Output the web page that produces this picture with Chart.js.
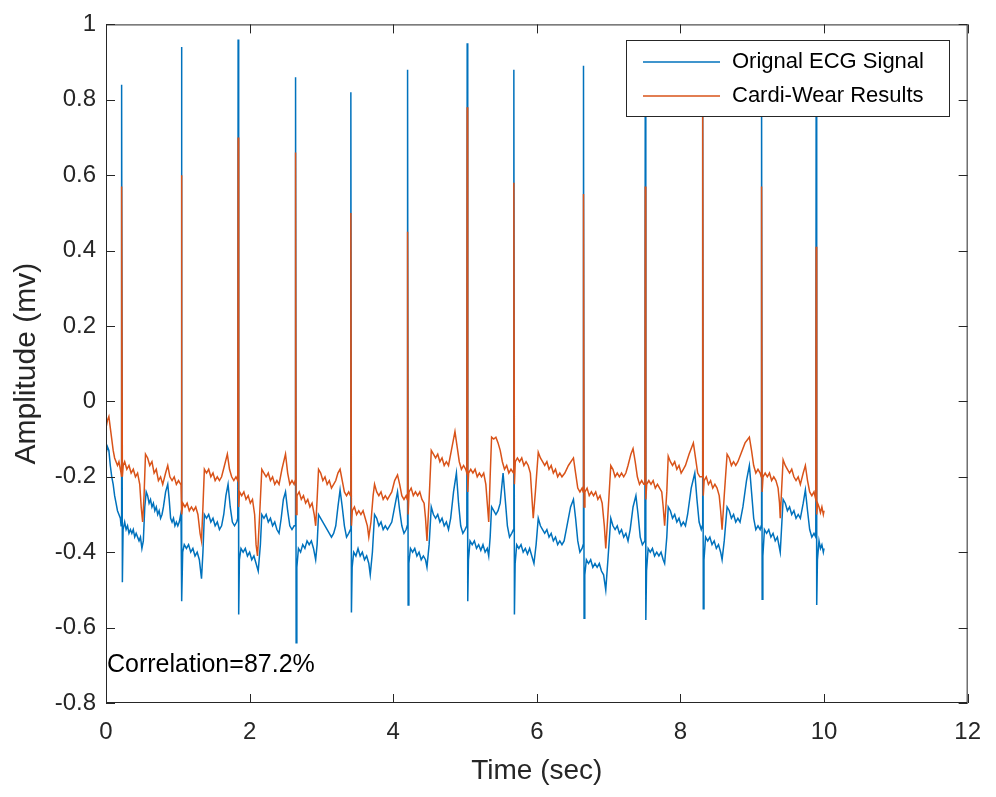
<!DOCTYPE html>
<html>
<head>
<meta charset="utf-8">
<title>ECG vs Cardi-Wear</title>
<script src="https://cdn.jsdelivr.net/npm/chart.js@4.4.1/dist/chart.umd.min.js"></script>
<style>
  html, body { margin: 0; padding: 0; background: #fff; }
  #ecgChart { display: block; }
</style>
</head>
<body>
<canvas id="ecgChart" width="996" height="797"></canvas>
<script>
// axis ticks
const xTickValues = [0, 2, 4, 6, 8, 10, 12];
const xTickLabels = ['0', '2', '4', '6', '8', '10', '12'];
const yTickValues = [-0.8, -0.6, -0.4, -0.2, 0, 0.2, 0.4, 0.6, 0.8, 1];
const yTickLabels = ['-0.8', '-0.6', '-0.4', '-0.2', '0', '0.2', '0.4', '0.6', '0.8', '1'];

const seriesNames = ['Orignal ECG Signal', 'Cardi-Wear Results'];
const correlationText = 'Correlation=87.2%';
const correlationAt = [0, -0.7]; // time, amplitude

// [time (sec), amplitude (mv)], beat by beat
const originalEcg = [
  // lead-in
  [0, -0.14], [0.02, -0.12], [0.04, -0.13], [0.06, -0.17], [0.08, -0.2], [0.1, -0.22], [0.12, -0.25],
  [0.14, -0.27], [0.16, -0.29], [0.18, -0.3], [0.2, -0.31], [0.21, -0.33],
  // beat 1
  [0.215, -0.3], [0.22, 0.84], [0.228, -0.48], [0.238, -0.34], [0.26, -0.32], [0.28, -0.34], [0.3, -0.33],
  [0.32, -0.35], [0.34, -0.34], [0.36, -0.35], [0.38, -0.34], [0.4, -0.36], [0.42, -0.35], [0.44, -0.36],
  [0.46, -0.37], [0.48, -0.36], [0.5, -0.39], [0.52, -0.37], [0.54, -0.28], [0.56, -0.24], [0.58, -0.25],
  [0.6, -0.27], [0.62, -0.26], [0.64, -0.28], [0.66, -0.27], [0.68, -0.29], [0.7, -0.28], [0.72, -0.3],
  [0.74, -0.29], [0.76, -0.31], [0.78, -0.3], [0.8, -0.28], [0.83, -0.24], [0.86, -0.22], [0.88, -0.26],
  [0.9, -0.31], [0.92, -0.32], [0.94, -0.31], [0.96, -0.33], [0.98, -0.32], [1.0, -0.33], [1.02, -0.32], [1.04, -0.3],
  // beat 2
  [1.045, -0.31], [1.05, 0.94], [1.058, -0.53], [1.068, -0.4], [1.09, -0.38], [1.12, -0.39], [1.15, -0.38],
  [1.18, -0.4], [1.21, -0.39], [1.24, -0.41], [1.27, -0.4], [1.3, -0.42], [1.33, -0.47], [1.35, -0.4],
  [1.37, -0.3], [1.4, -0.31], [1.43, -0.3], [1.46, -0.32], [1.49, -0.31], [1.52, -0.33], [1.55, -0.32],
  [1.58, -0.34], [1.61, -0.33], [1.64, -0.3], [1.67, -0.25], [1.7, -0.22], [1.73, -0.28], [1.76, -0.32],
  [1.79, -0.33], [1.82, -0.32],
  // beat 3
  [1.835, -0.31], [1.84, 0.96], [1.848, -0.565], [1.858, -0.42], [1.88, -0.39], [1.91, -0.4], [1.94, -0.39],
  [1.97, -0.41], [2.0, -0.4], [2.03, -0.42], [2.06, -0.41], [2.09, -0.43], [2.12, -0.45], [2.15, -0.38],
  [2.17, -0.3], [2.2, -0.31], [2.23, -0.3], [2.26, -0.32], [2.29, -0.31], [2.32, -0.33], [2.35, -0.32],
  [2.38, -0.34], [2.41, -0.35], [2.44, -0.31], [2.47, -0.26], [2.5, -0.24], [2.53, -0.29], [2.56, -0.33],
  [2.59, -0.34], [2.62, -0.33],
  // beat 4
  [2.635, -0.33], [2.64, 0.86], [2.648, -0.64], [2.658, -0.44], [2.68, -0.39], [2.71, -0.4], [2.74, -0.38],
  [2.77, -0.39], [2.8, -0.37], [2.83, -0.38], [2.86, -0.37], [2.89, -0.39], [2.92, -0.42], [2.94, -0.38],
  [2.96, -0.3], [2.99, -0.31], [3.02, -0.32], [3.05, -0.33], [3.08, -0.34], [3.11, -0.35], [3.14, -0.36],
  [3.17, -0.35], [3.2, -0.33], [3.23, -0.28], [3.26, -0.235], [3.29, -0.28], [3.32, -0.33], [3.35, -0.36],
  [3.38, -0.35], [3.405, -0.34],
  // beat 5
  [3.41, 0.82], [3.418, -0.56], [3.428, -0.44], [3.45, -0.4], [3.48, -0.41], [3.51, -0.39], [3.54, -0.41],
  [3.57, -0.4], [3.6, -0.42], [3.63, -0.41], [3.66, -0.43], [3.68, -0.46], [3.71, -0.4], [3.74, -0.3],
  [3.77, -0.31], [3.8, -0.33], [3.83, -0.32], [3.86, -0.34], [3.89, -0.33], [3.92, -0.34], [3.95, -0.33],
  [3.98, -0.32], [4.02, -0.28], [4.06, -0.24], [4.09, -0.29], [4.12, -0.33], [4.15, -0.35], [4.18, -0.34], [4.195, -0.33],
  // beat 6
  [4.2, 0.88], [4.208, -0.54], [4.218, -0.43], [4.24, -0.39], [4.27, -0.4], [4.3, -0.39], [4.33, -0.41],
  [4.36, -0.4], [4.39, -0.42], [4.42, -0.41], [4.45, -0.42], [4.47, -0.44], [4.5, -0.38], [4.53, -0.28],
  [4.56, -0.3], [4.59, -0.31], [4.62, -0.3], [4.65, -0.32], [4.68, -0.31], [4.71, -0.33], [4.74, -0.32],
  [4.77, -0.34], [4.8, -0.31], [4.84, -0.24], [4.88, -0.19], [4.91, -0.27], [4.94, -0.33], [4.97, -0.35],
  [5.0, -0.34], [5.025, -0.33],
  // beat 7
  [5.03, 0.95], [5.038, -0.53], [5.048, -0.42], [5.07, -0.37], [5.1, -0.38], [5.13, -0.37], [5.16, -0.39],
  [5.19, -0.38], [5.22, -0.395], [5.25, -0.38], [5.28, -0.4], [5.31, -0.39], [5.33, -0.41], [5.35, -0.36],
  [5.37, -0.28], [5.4, -0.29], [5.43, -0.3], [5.46, -0.29], [5.49, -0.27], [5.53, -0.19], [5.56, -0.26],
  [5.59, -0.33], [5.62, -0.36], [5.65, -0.35], [5.675, -0.34],
  // beat 8
  [5.68, 0.88], [5.688, -0.565], [5.698, -0.43], [5.72, -0.38], [5.75, -0.39], [5.78, -0.38], [5.81, -0.4],
  [5.84, -0.39], [5.87, -0.405], [5.9, -0.39], [5.93, -0.41], [5.96, -0.43], [5.99, -0.38], [6.02, -0.31],
  [6.05, -0.33], [6.08, -0.34], [6.11, -0.35], [6.14, -0.34], [6.17, -0.36], [6.2, -0.35], [6.23, -0.37],
  [6.26, -0.36], [6.29, -0.38], [6.32, -0.37], [6.35, -0.38], [6.38, -0.37], [6.42, -0.33], [6.47, -0.28],
  [6.51, -0.26], [6.54, -0.31], [6.57, -0.37], [6.6, -0.4], [6.63, -0.39], [6.645, -0.38],
  // beat 9
  [6.65, 0.89], [6.658, -0.575], [6.668, -0.46], [6.69, -0.42], [6.72, -0.43], [6.75, -0.42], [6.78, -0.44],
  [6.81, -0.43], [6.84, -0.44], [6.87, -0.43], [6.9, -0.45], [6.93, -0.46], [6.96, -0.5], [6.99, -0.42],
  [7.03, -0.31], [7.06, -0.33], [7.09, -0.34], [7.12, -0.33], [7.15, -0.35], [7.18, -0.34], [7.21, -0.36],
  [7.24, -0.35], [7.27, -0.37], [7.3, -0.34], [7.34, -0.28], [7.38, -0.25], [7.41, -0.3], [7.44, -0.36],
  [7.47, -0.38], [7.505, -0.37],
  // beat 10
  [7.51, 0.88], [7.518, -0.58], [7.528, -0.45], [7.55, -0.39], [7.58, -0.4], [7.61, -0.39], [7.64, -0.41],
  [7.67, -0.4], [7.7, -0.41], [7.73, -0.4], [7.76, -0.42], [7.78, -0.43], [7.81, -0.36], [7.83, -0.28],
  [7.86, -0.29], [7.89, -0.31], [7.92, -0.3], [7.95, -0.32], [7.98, -0.31], [8.01, -0.33], [8.04, -0.32],
  [8.07, -0.33], [8.1, -0.3], [8.15, -0.23], [8.2, -0.19], [8.23, -0.26], [8.26, -0.32], [8.29, -0.34], [8.305, -0.33],
  // beat 11
  [8.31, 0.76], [8.318, -0.55], [8.328, -0.42], [8.35, -0.36], [8.38, -0.37], [8.41, -0.36], [8.44, -0.38],
  [8.47, -0.37], [8.5, -0.39], [8.53, -0.38], [8.56, -0.4], [8.58, -0.42], [8.61, -0.37], [8.65, -0.28],
  [8.68, -0.29], [8.71, -0.31], [8.74, -0.3], [8.77, -0.32], [8.8, -0.31], [8.83, -0.32], [8.87, -0.28],
  [8.92, -0.21], [8.96, -0.17], [8.99, -0.24], [9.02, -0.31], [9.05, -0.34], [9.08, -0.33], [9.11, -0.34], [9.125, -0.33],
  // beat 12
  [9.13, 0.86], [9.138, -0.525], [9.148, -0.41], [9.17, -0.34], [9.2, -0.35], [9.23, -0.34], [9.26, -0.36],
  [9.29, -0.35], [9.32, -0.37], [9.35, -0.36], [9.37, -0.38], [9.39, -0.4], [9.41, -0.33], [9.43, -0.26],
  [9.46, -0.27], [9.49, -0.29], [9.52, -0.28], [9.55, -0.3], [9.58, -0.29], [9.61, -0.31], [9.64, -0.3],
  [9.67, -0.31], [9.71, -0.27], [9.74, -0.235], [9.77, -0.29], [9.8, -0.34], [9.83, -0.36], [9.86, -0.35], [9.885, -0.36],
  // beat 13
  [9.89, 0.84], [9.898, -0.54], [9.908, -0.42], [9.93, -0.37], [9.95, -0.39], [9.97, -0.38], [9.99, -0.4], [10.0, -0.39]
];

const cardiWear = [
  // lead-in
  [0, -0.07], [0.02, -0.05], [0.04, -0.04], [0.06, -0.07], [0.08, -0.1], [0.1, -0.13], [0.12, -0.15],
  [0.14, -0.16], [0.16, -0.17], [0.18, -0.16], [0.2, -0.18], [0.21, -0.19],
  // beat 1
  [0.215, -0.2], [0.22, 0.57], [0.228, -0.2], [0.24, -0.17], [0.26, -0.16], [0.29, -0.18], [0.32, -0.17],
  [0.35, -0.19], [0.38, -0.18], [0.41, -0.2], [0.44, -0.19], [0.47, -0.22], [0.49, -0.28], [0.51, -0.32],
  [0.53, -0.25], [0.55, -0.14], [0.58, -0.15], [0.61, -0.17], [0.64, -0.16], [0.67, -0.19], [0.7, -0.18],
  [0.73, -0.21], [0.76, -0.2], [0.79, -0.22], [0.83, -0.19], [0.86, -0.17], [0.89, -0.2], [0.92, -0.21],
  [0.95, -0.2], [0.98, -0.22], [1.01, -0.21], [1.04, -0.22],
  // beat 2
  [1.045, -0.22], [1.05, 0.6], [1.058, -0.3], [1.07, -0.27], [1.1, -0.28], [1.13, -0.27], [1.16, -0.29],
  [1.19, -0.28], [1.22, -0.29], [1.25, -0.28], [1.28, -0.3], [1.31, -0.35], [1.33, -0.37], [1.35, -0.28],
  [1.37, -0.18], [1.4, -0.19], [1.43, -0.18], [1.46, -0.2], [1.49, -0.19], [1.52, -0.21], [1.55, -0.2],
  [1.58, -0.21], [1.61, -0.2], [1.65, -0.17], [1.69, -0.14], [1.72, -0.18], [1.75, -0.2], [1.78, -0.21],
  [1.81, -0.2], [1.835, -0.21],
  // beat 3
  [1.84, 0.7], [1.848, -0.28], [1.86, -0.24], [1.89, -0.25], [1.92, -0.24], [1.95, -0.26], [1.98, -0.25],
  [2.01, -0.27], [2.04, -0.26], [2.07, -0.3], [2.09, -0.38], [2.11, -0.41], [2.14, -0.3], [2.17, -0.18],
  [2.2, -0.19], [2.23, -0.2], [2.26, -0.19], [2.29, -0.21], [2.32, -0.2], [2.35, -0.22], [2.38, -0.21],
  [2.41, -0.22], [2.45, -0.18], [2.5, -0.14], [2.53, -0.19], [2.56, -0.22], [2.59, -0.21], [2.62, -0.22],
  // beat 4
  [2.635, -0.21], [2.64, 0.66], [2.648, -0.3], [2.66, -0.25], [2.69, -0.24], [2.72, -0.26], [2.75, -0.25],
  [2.78, -0.27], [2.81, -0.26], [2.84, -0.28], [2.87, -0.27], [2.9, -0.3], [2.92, -0.33], [2.94, -0.26],
  [2.96, -0.18], [2.99, -0.19], [3.02, -0.21], [3.05, -0.2], [3.08, -0.22], [3.11, -0.21], [3.14, -0.23],
  [3.17, -0.22], [3.2, -0.21], [3.23, -0.19], [3.26, -0.18], [3.29, -0.21], [3.32, -0.24], [3.35, -0.25],
  [3.38, -0.24], [3.405, -0.25],
  // beat 5
  [3.41, 0.5], [3.418, -0.33], [3.43, -0.29], [3.46, -0.28], [3.49, -0.3], [3.52, -0.29], [3.55, -0.3],
  [3.58, -0.29], [3.61, -0.31], [3.64, -0.33], [3.66, -0.36], [3.69, -0.32], [3.72, -0.25], [3.74, -0.22],
  [3.77, -0.24], [3.8, -0.25], [3.83, -0.24], [3.86, -0.26], [3.89, -0.25], [3.92, -0.26], [3.95, -0.25],
  [3.98, -0.24], [4.02, -0.21], [4.06, -0.195], [4.09, -0.22], [4.12, -0.25], [4.15, -0.26], [4.18, -0.25], [4.195, -0.26],
  // beat 6
  [4.2, 0.45], [4.208, -0.3], [4.22, -0.24], [4.25, -0.23], [4.28, -0.25], [4.31, -0.24], [4.34, -0.25],
  [4.37, -0.24], [4.4, -0.26], [4.43, -0.27], [4.45, -0.31], [4.47, -0.37], [4.5, -0.26], [4.53, -0.13],
  [4.56, -0.14], [4.59, -0.15], [4.62, -0.14], [4.65, -0.16], [4.68, -0.15], [4.71, -0.17], [4.74, -0.16],
  [4.77, -0.17], [4.81, -0.13], [4.86, -0.08], [4.89, -0.12], [4.92, -0.16], [4.95, -0.18], [4.98, -0.17],
  [5.01, -0.18], [5.025, -0.19],
  // beat 7
  [5.03, 0.78], [5.038, -0.24], [5.05, -0.19], [5.08, -0.18], [5.11, -0.19], [5.14, -0.18], [5.17, -0.2],
  [5.2, -0.19], [5.23, -0.2], [5.26, -0.19], [5.29, -0.22], [5.31, -0.27], [5.33, -0.32], [5.35, -0.2],
  [5.37, -0.095], [5.4, -0.1], [5.43, -0.095], [5.46, -0.11], [5.49, -0.13], [5.52, -0.16], [5.55, -0.18],
  [5.58, -0.17], [5.61, -0.19], [5.64, -0.18], [5.675, -0.19],
  // beat 8
  [5.68, 0.58], [5.688, -0.22], [5.7, -0.16], [5.73, -0.15], [5.76, -0.16], [5.79, -0.15], [5.82, -0.17],
  [5.85, -0.16], [5.88, -0.17], [5.91, -0.19], [5.93, -0.25], [5.95, -0.31], [5.98, -0.24], [6.02, -0.135],
  [6.05, -0.15], [6.08, -0.16], [6.11, -0.17], [6.14, -0.16], [6.17, -0.18], [6.2, -0.17], [6.23, -0.19],
  [6.26, -0.18], [6.29, -0.2], [6.32, -0.19], [6.35, -0.2], [6.39, -0.19], [6.44, -0.17], [6.51, -0.15],
  [6.54, -0.19], [6.57, -0.23], [6.6, -0.24], [6.63, -0.23], [6.645, -0.24],
  // beat 9
  [6.65, 0.55], [6.658, -0.28], [6.67, -0.24], [6.7, -0.23], [6.73, -0.25], [6.76, -0.24], [6.79, -0.25],
  [6.82, -0.24], [6.85, -0.26], [6.88, -0.25], [6.91, -0.27], [6.94, -0.33], [6.96, -0.39], [6.99, -0.3],
  [7.03, -0.17], [7.06, -0.18], [7.09, -0.2], [7.12, -0.19], [7.15, -0.2], [7.18, -0.19], [7.21, -0.2],
  [7.24, -0.19], [7.27, -0.17], [7.31, -0.14], [7.34, -0.125], [7.37, -0.16], [7.4, -0.2], [7.43, -0.22],
  [7.46, -0.21], [7.49, -0.22], [7.505, -0.22],
  // beat 10
  [7.51, 0.57], [7.518, -0.26], [7.53, -0.22], [7.56, -0.21], [7.59, -0.22], [7.62, -0.21], [7.65, -0.23],
  [7.68, -0.22], [7.71, -0.23], [7.74, -0.24], [7.76, -0.28], [7.78, -0.33], [7.81, -0.24], [7.83, -0.145],
  [7.86, -0.16], [7.89, -0.17], [7.92, -0.16], [7.95, -0.18], [7.98, -0.17], [8.01, -0.19], [8.04, -0.18],
  [8.07, -0.17], [8.12, -0.14], [8.18, -0.11], [8.21, -0.15], [8.24, -0.19], [8.27, -0.2], [8.305, -0.2],
  // beat 11
  [8.31, 0.8], [8.318, -0.25], [8.33, -0.21], [8.36, -0.2], [8.39, -0.22], [8.42, -0.21], [8.45, -0.23],
  [8.48, -0.22], [8.51, -0.23], [8.54, -0.25], [8.56, -0.29], [8.58, -0.34], [8.61, -0.25], [8.65, -0.14],
  [8.68, -0.15], [8.71, -0.17], [8.74, -0.16], [8.77, -0.17], [8.8, -0.16], [8.84, -0.14], [8.9, -0.11],
  [8.96, -0.095], [8.99, -0.13], [9.02, -0.17], [9.05, -0.19], [9.08, -0.18], [9.11, -0.19], [9.125, -0.2],
  // beat 12
  [9.13, 0.57], [9.138, -0.24], [9.15, -0.2], [9.18, -0.19], [9.21, -0.2], [9.24, -0.19], [9.27, -0.21],
  [9.3, -0.2], [9.33, -0.21], [9.36, -0.23], [9.38, -0.27], [9.39, -0.31], [9.41, -0.23], [9.43, -0.155],
  [9.46, -0.17], [9.49, -0.18], [9.52, -0.19], [9.55, -0.18], [9.58, -0.2], [9.61, -0.21], [9.64, -0.2],
  [9.67, -0.22], [9.71, -0.19], [9.74, -0.17], [9.77, -0.21], [9.8, -0.24], [9.83, -0.25], [9.86, -0.24], [9.885, -0.26],
  // beat 13
  [9.89, 0.41], [9.898, -0.3], [9.91, -0.27], [9.93, -0.28], [9.95, -0.295], [9.97, -0.28], [9.99, -0.3], [10.0, -0.29]
];

const BLUE = '#0072BD';
const ORANGE = '#D95319';
const AXIS = '#262626';
const FONT = '"Liberation Sans", Arial, Helvetica, sans-serif';

// box, inward ticks, legend and the correlation note, matlab style
const matlabFrame = {
  id: 'matlabFrame',
  afterDraw(chart) {
    const { ctx, chartArea: a, scales: { x, y } } = chart;
    const tick = 9;
    ctx.save();
    ctx.strokeStyle = AXIS;
    ctx.lineWidth = 1;
    ctx.strokeRect(a.left + 0.5, a.top + 0.5, a.width - 1, a.height - 1);
    ctx.beginPath();
    xTickValues.forEach(v => {
      const px = Math.round(x.getPixelForValue(v)) + 0.5;
      ctx.moveTo(px, a.bottom); ctx.lineTo(px, a.bottom - tick);
      ctx.moveTo(px, a.top); ctx.lineTo(px, a.top + tick);
    });
    yTickValues.forEach(v => {
      const py = Math.round(y.getPixelForValue(v)) + 0.5;
      ctx.moveTo(a.left, py); ctx.lineTo(a.left + tick, py);
      ctx.moveTo(a.right, py); ctx.lineTo(a.right - tick, py);
    });
    ctx.stroke();

    // legend (north east)
    const lx = 626.5, ly = 40.5, lw = 323, lh = 76;
    ctx.fillStyle = '#fff';
    ctx.fillRect(lx, ly, lw, lh);
    ctx.strokeRect(lx, ly, lw, lh);
    ctx.font = '22px ' + FONT;
    ctx.textBaseline = 'middle';
    ctx.textAlign = 'left';
    [BLUE, ORANGE].forEach((c, i) => {
      const rowY = 62 + i * 34;
      ctx.strokeStyle = c;
      ctx.lineWidth = 1.5;
      ctx.beginPath();
      ctx.moveTo(643, rowY); ctx.lineTo(720, rowY);
      ctx.stroke();
      ctx.fillStyle = '#000';
      ctx.fillText(seriesNames[i], 732, rowY);
    });

    // correlation note at data position
    ctx.font = '25px ' + FONT;
    ctx.fillStyle = '#000';
    ctx.fillText(correlationText, x.getPixelForValue(correlationAt[0]) + 1, y.getPixelForValue(correlationAt[1]));
    ctx.restore();
  }
};

const toXY = pts => pts.map(p => ({ x: p[0], y: p[1] }));

new Chart(document.getElementById('ecgChart'), {
  type: 'line',
  data: {
    datasets: [
      {
        label: seriesNames[0],
        data: toXY(originalEcg),
        borderColor: BLUE,
        borderWidth: 1.5,
        pointRadius: 0,
        tension: 0,
        order: 1
      },
      {
        label: seriesNames[1],
        data: toXY(cardiWear),
        borderColor: ORANGE,
        borderWidth: 1.5,
        pointRadius: 0,
        tension: 0,
        order: 0
      }
    ]
  },
  options: {
    responsive: false,
    devicePixelRatio: 1,
    animation: false,
    layout: { padding: { left: 0, top: 14, right: 21, bottom: 0 } },
    plugins: {
      legend: { display: false },
      tooltip: { enabled: false }
    },
    scales: {
      x: {
        type: 'linear',
        min: 0,
        max: 12,
        afterBuildTicks: s => { s.ticks = xTickValues.map(v => ({ value: v })); },
        afterFit: s => { s.height = 94; },
        grid: { display: false, drawTicks: false },
        border: { display: false },
        ticks: {
          autoSkip: false,
          maxRotation: 0,
          padding: 15,
          color: AXIS,
          font: { family: FONT, size: 24 },
          callback: (v, i) => xTickLabels[i]
        },
        title: {
          display: true,
          text: 'Time (sec)',
          color: AXIS,
          font: { family: FONT, size: 28 },
          padding: { top: 0, bottom: 9 }
        }
      },
      y: {
        type: 'linear',
        min: -0.8,
        max: 1,
        afterBuildTicks: s => { s.ticks = yTickValues.map(v => ({ value: v })); },
        afterFit: s => { s.width = 106; },
        grid: { display: false, drawTicks: false },
        border: { display: false },
        ticks: {
          autoSkip: false,
          padding: 10,
          color: AXIS,
          font: { family: FONT, size: 24 },
          callback: (v, i) => yTickLabels[i]
        },
        title: {
          display: true,
          text: 'Amplitude (mv)',
          color: AXIS,
          font: { family: FONT, size: 30 },
          padding: { top: 9, bottom: 0 }
        }
      }
    }
  },
  plugins: [matlabFrame]
});
</script>
</body>
</html>
